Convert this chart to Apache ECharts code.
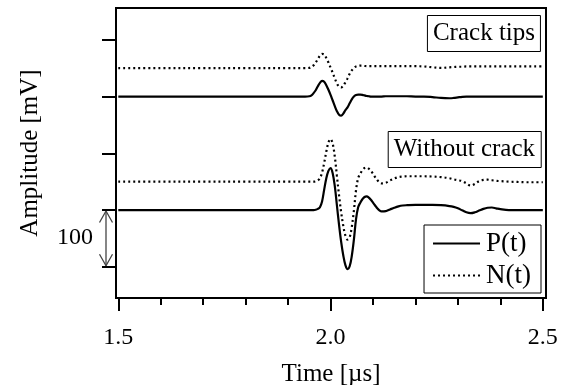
<!DOCTYPE html>
<html>
<head>
<meta charset="utf-8">
<script src="https://cdn.jsdelivr.net/npm/echarts@6/dist/echarts.min.js"></script>
<style>
html,body{margin:0;padding:0;background:#fff;}
#chart{width:566px;height:385px;}
</style>
</head>
<body>
<div id="chart"></div>
<script>
// ---- data (time in µs, amplitude in mV relative to each trace baseline) ----
const timeUs = [1.50,1.60,1.70,1.80,1.90,1.94,1.95,1.955,1.96,1.965,1.97,1.975,1.98,1.985,1.99,1.995,
  2.00,2.005,2.01,2.015,2.02,2.025,2.03,2.035,2.04,2.045,2.05,2.055,2.06,2.065,2.07,2.075,2.08,2.085,
  2.09,2.095,2.10,2.105,2.11,2.115,2.12,2.13,2.14,2.15,2.16,2.17,2.18,2.20,2.22,2.24,2.26,2.28,2.29,
  2.30,2.31,2.32,2.33,2.34,2.35,2.36,2.37,2.38,2.39,2.40,2.42,2.44,2.46,2.48,2.50];

const withoutP = [0,0,0,0,0,0,0,0,0,0.5,2,5,15,36,56,69,
  74,65,42,8,-26,-56,-80,-97,-104,-99,-81,-52,-16,5,13,19,23,24,
  22,18,13,8,3,-0.5,-2.5,-2,1,4,6.5,8,8.5,9,9,9,8.5,7,5.5,
  3,-0.5,-4,-5.5,-4,-1,2,4,4.5,3,1.5,0,0,0,0,0];

const withoutN = [0,0,0,0,0,0,0,0,0,0.5,2,6,16,33,53,69,
  75,67,44,10,-24,-54,-78,-95,-102,-98,-80,-51,-15,6,14,20,24,25,
  23,19,14,8,3,-1,-3,-2,2,5.5,8,9,9.5,9.5,9.5,9,8,6,4,
  2.5,1,-3,-7,-4,1,3,3.5,2.5,1.5,1,0,-0.5,-1,-1,-1];

const crackP = [0,0,0,0,0,0,0.5,2,6,11,18,24,27.5,26,20,12,
  3,-7,-17,-26,-32,-33.5,-30,-24,-19,-12,-5,0,2.5,3.5,3.5,3,2,1,
  0.5,0,0,0,0,0,0,0.5,0.5,0.5,0.5,0.5,0.5,0,0,-1,-2.5,-3,-2.5,
  -1.5,-0.5,0,0,0,0,0,0,0,0,0,0,0,0,0,0];

const crackN = [0,0,0,0,0,0,0.5,2,5,10,16,22,25,24,18,10,
  1,-8,-18,-27,-32.5,-34,-31,-25,-18,-10,-4,0.5,3,4,4.5,4.5,4,3.5,
  3.5,3.5,3.5,3.5,3.5,3.5,3.5,3.5,3.5,3.5,3.5,3.5,3.5,3.5,3,1.5,0.5,1.5,2,
  2.5,2.5,3,3,3,3,3,3,3,3,3,3,3,3,3,3];

const traceNames = ['P(t)', 'N(t)', 'P(t)', 'N(t)'];
const traceOffsetsMV = [0, 50, 200, 250];
const traceValues = [withoutP, withoutN, crackP, crackN];

const xMajorTicks = [1.5, 2.0, 2.5];
const xMinorTicks = [1.6, 1.7, 1.8, 1.9, 2.1, 2.2, 2.3, 2.4];
const yTicksMV = [-100, 0, 100, 200, 300];
const scaleBarMV = [-100, 0];
const scaleBarLabel = '100';
const panelLabels = ['Crack tips', 'Without crack'];

// ---- chart ----
const FONT = '"Liberation Serif", "Times New Roman", serif';
const X_MIN = 1.4946, X_MAX = 2.5075;
const Y_MIN = -155, Y_MAX = 356;

const chart = echarts.init(document.getElementById('chart'), null, {renderer: 'canvas'});

const series = traceValues.map((vals, k) => ({
  name: traceNames[k],
  type: 'line',
  xAxisIndex: 0,
  yAxisIndex: 0,
  symbol: 'none',
  smooth: 0.35,
  animation: false,
  lineStyle: {
    color: '#000',
    width: 2.2,
    type: traceNames[k] === 'N(t)' ? [2, 3] : 'solid'
  },
  itemStyle: {color: '#000'},
  data: timeUs.map((t, i) => [t, vals[i] + traceOffsetsMV[k]])
}));

const titleStyle = {fontFamily: FONT, fontSize: 25, fontWeight: 'normal', color: '#000', lineHeight: 28};

const option = {
  animation: false,
  backgroundColor: '#fff',
  textStyle: {fontFamily: FONT},
  title: [
    {text: panelLabels[0], right: 25, top: 15, borderColor: '#000', borderWidth: 1,
     padding: [4, 6, 5, 6], textStyle: titleStyle},
    {text: panelLabels[1], right: 25, top: 131, borderColor: '#000', borderWidth: 1,
     padding: [4, 6, 5, 6], textStyle: titleStyle}
  ],
  legend: {
    data: ['P(t)', 'N(t)'],
    orient: 'vertical',
    right: 25,
    top: 225,
    borderColor: '#000',
    borderWidth: 1,
    padding: [5, 10, 4, 8],
    itemGap: 5,
    itemWidth: 47,
    itemHeight: 14,
    backgroundColor: '#fff',
    itemStyle: {opacity: 0},
    textStyle: {fontFamily: FONT, fontSize: 27, color: '#000', padding: [0, 0, 0, 1]}
  },
  grid: {
    left: 116, top: 8, width: 430, height: 290,
    outerBoundsMode: 'none', containLabel: false,
    show: true, borderColor: '#000', borderWidth: 2, backgroundColor: 'transparent'
  },
  xAxis: [
    {
      type: 'value', min: X_MIN, max: X_MAX, position: 'bottom',
      name: 'Time [µs]', nameLocation: 'middle', nameGap: 64,
      nameTextStyle: {fontFamily: FONT, fontSize: 25, color: '#000'},
      axisLine: {show: true, onZero: false, lineStyle: {color: '#000', width: 2}},
      axisTick: {show: true, customValues: xMajorTicks, length: 13, inside: false,
                 lineStyle: {color: '#000', width: 2}},
      axisLabel: {show: true, customValues: xMajorTicks, margin: 28,
                  formatter: v => Number(v).toFixed(1),
                  fontFamily: FONT, fontSize: 24, color: '#000'},
      splitLine: {show: false}
    },
    {
      type: 'value', min: X_MIN, max: X_MAX, position: 'bottom',
      axisLine: {show: false, onZero: false},
      axisTick: {show: true, customValues: xMinorTicks, length: 7, inside: false,
                 lineStyle: {color: '#000', width: 2}},
      axisLabel: {show: false},
      splitLine: {show: false}
    }
  ],
  yAxis: {
    type: 'value', min: Y_MIN, max: Y_MAX,
    name: 'Amplitude [mV]', nameLocation: 'middle', nameGap: 73, nameRotate: 90,
    nameTextStyle: {fontFamily: FONT, fontSize: 25, color: '#000'},
    axisLine: {show: true, onZero: false, lineStyle: {color: '#000', width: 2}},
    axisTick: {show: true, customValues: yTicksMV, length: 14, inside: false,
               lineStyle: {color: '#000', width: 2}},
    axisLabel: {show: false},
    splitLine: {show: false}
  },
  series: series
};

chart.setOption(option);

// scale bar (positioned through the y axis scale)
const yA = chart.convertToPixel({yAxisIndex: 0}, scaleBarMV[1]);
const yB = chart.convertToPixel({yAxisIndex: 0}, scaleBarMV[0]);
const xLeft = chart.convertToPixel({xAxisIndex: 0}, X_MIN);
const xb = xLeft - 10;
const headW = 6.5, headH = 12.5;
const barStyle = {stroke: '#444', lineWidth: 1.3, fill: null};
chart.setOption({
  graphic: [
    {type: 'line', shape: {x1: xb, y1: yA + 1, x2: xb, y2: yB - 1}, style: barStyle, silent: true},
    {type: 'polyline', shape: {points: [[xb - headW, yA + headH], [xb, yA + 1], [xb + headW, yA + headH]]},
     style: barStyle, silent: true},
    {type: 'polyline', shape: {points: [[xb - headW, yB - headH], [xb, yB - 1], [xb + headW, yB - headH]]},
     style: barStyle, silent: true},
    {type: 'text', x: xb - 13, y: (yA + yB) / 2 - 1,
     style: {text: scaleBarLabel, fontFamily: FONT, fontSize: 24, fill: '#000',
             align: 'right', verticalAlign: 'middle'}, silent: true}
  ]
});
</script>
</body>
</html>
